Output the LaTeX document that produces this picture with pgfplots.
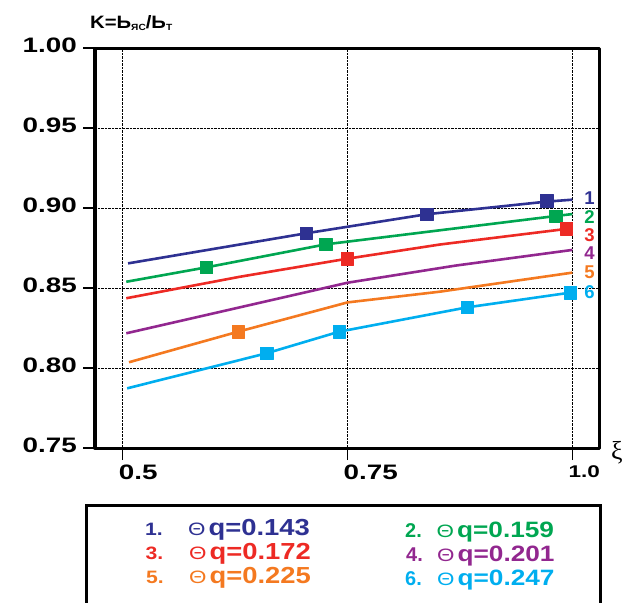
\documentclass[border=0pt]{standalone}
\usepackage{fontspec}
\setmainfont{Liberation Sans}
\newfontfamily\tickfont[FakeStretch=1.33]{Liberation Sans}
\newfontfamily\legfont[FakeStretch=1.18]{Liberation Sans}
\newfontfamily\titlefont[FakeStretch=1.13]{Liberation Sans}
\newfontfamily\greekserif{Liberation Serif}
\usepackage{graphicx}
\usepackage{pgfplots}
\pgfplotsset{compat=1.18}

\definecolor{c1}{HTML}{2E3192}
\definecolor{c2}{HTML}{00A651}
\definecolor{c3}{HTML}{ED2A24}
\definecolor{c4}{HTML}{92278F}
\definecolor{c5}{HTML}{F47920}
\definecolor{c6}{HTML}{00AEEF}

% curves K(xi) for the six values of Theta q
\pgfplotstableread{
x      y
0.506  0.8654
0.704  0.8842
0.838  0.8961
0.9715 0.9040
1.000  0.9052
}\lineA
\pgfplotstableread{
x      y
0.704  0.8842
0.838  0.8961
0.9715 0.9044
}\markA
\pgfplotstableread{
x      y
0.504  0.8539
0.593  0.8629
0.726  0.8773
0.9815 0.8950
1.000  0.8962
}\lineB
\pgfplotstableread{
x      y
0.593  0.8629
0.726  0.8773
0.9815 0.8950
}\markB
\pgfplotstableread{
x      y
0.504  0.8436
0.630  0.8570
0.7495 0.8683
0.853  0.8772
0.993  0.8869
1.000  0.8873
}\lineC
\pgfplotstableread{
x      y
0.7495 0.8683
0.993  0.8869
}\markC
\pgfplotstableread{
x      y
0.504  0.8217
0.620  0.8366
0.750  0.8533
0.870  0.8640
1.000  0.8738
}\lineD
\pgfplotstableread{
x      y
0.507  0.8036
0.6284 0.8227
0.750  0.8410
0.8526 0.8477
1.000  0.8596
}\lineE
\pgfplotstableread{
x      y
0.6284 0.8227
}\markE
\pgfplotstableread{
x      y
0.505  0.7873
0.660  0.8092
0.7407 0.8227
0.8829 0.8379
0.9977 0.8471
1.000  0.8473
}\lineF
\pgfplotstableread{
x      y
0.660  0.8092
0.7407 0.8227
0.8829 0.8379
0.9977 0.8471
}\markF

\begin{document}
\begin{tikzpicture}
\begin{axis}[
  scale only axis,
  width=504.5bp, height=400bp,
  at={(95bp,-448bp)}, anchor=south west,
  xmin=0.4692, xmax=1.0302,
  ymin=0.75, ymax=1.0,
  clip=false,
  axis line style={line width=3bp, black},
  tick pos=left,
  tick align=outside,
  major tick length=12bp,
  tick style={line width=1.5bp, black},
  grid=major,
  major grid style={densely dotted, line width=0.8bp, black},
  xtick={0.5,0.75,1.0},
  xticklabels={0.5,0.75,{\fontsize{17}{17}\selectfont 1.0}},
  ytick={0.75,0.80,0.85,0.90,0.95,1.00},
  /pgf/number format/assume math mode=true,
  yticklabel style={/pgf/number format/fixed,
    /pgf/number format/fixed zerofill,
    /pgf/number format/precision=2,
    anchor=east, inner sep=0pt, xshift=-6bp, yshift=3bp},
  xticklabel style={anchor=north west, inner sep=0pt, xshift=-4bp, yshift=-5bp},
  ticklabel style={font=\tickfont\bfseries\fontsize{21}{21}\selectfont},
  line join=round,
]
\addplot[c1, line width=2.6bp] table {\lineA};
\addplot[c2, line width=2.6bp] table {\lineB};
\addplot[c3, line width=2.6bp] table {\lineC};
\addplot[c4, line width=2.6bp] table {\lineD};
\addplot[c5, line width=2.6bp] table {\lineE};
\addplot[c6, line width=2.6bp] table {\lineF};
\addplot[only marks, mark=square*, mark size=6.3bp, c1] table {\markA};
\addplot[only marks, mark=square*, mark size=6.3bp, c2] table {\markB};
\addplot[only marks, mark=square*, mark size=6.3bp, c3] table {\markC};
\addplot[only marks, mark=square*, mark size=6.3bp, c5] table {\markE};
\addplot[only marks, mark=square*, mark size=6.3bp, c6] table {\markF};

% curve numbers at the right-hand end
\begin{scope}[every node/.style={inner sep=0pt, font=\bfseries\fontsize{18.6}{18.6}\selectfont}]
\node[c1] at (axis cs:1.019,0.9063) {1};
\node[c2] at (axis cs:1.019,0.8946) {2};
\node[c3] at (axis cs:1.019,0.8831) {3};
\node[c4] at (axis cs:1.019,0.8717) {4};
\node[c5] at (axis cs:1.019,0.8596) {5};
\node[c6] at (axis cs:1.019,0.8477) {6};
\end{scope}
\end{axis}

% axis titles
\node[anchor=base west, inner sep=0pt, font=\titlefont\bfseries\fontsize{18}{18}\selectfont]
  at (90bp,-28bp)
  {K=Ь\raisebox{-2bp}{\fontsize{9}{9}\selectfont ЯС}/Ь\raisebox{-2bp}{\fontsize{9}{9}\selectfont Т}};
\node[inner sep=0pt, font=\greekserif\fontsize{26}{26}\selectfont] at (617bp,-453bp) {ξ};

% legend box
\draw[line width=3bp] (86bp,-505bp) rectangle (600bp,-650bp);
\newcommand{\thq}[2]{{\fontsize{18}{18}\selectfont\scalebox{1.25}[1]{Θ}}\hspace{3bp}{\legfont\bfseries\fontsize{#2}{#2}\selectfont q=#1}}
\begin{scope}[every node/.style={anchor=base west, inner sep=0pt}]
\node[c1, font=\legfont\bfseries\fontsize{18}{18}\selectfont] at (145bp,-535bp) {1.};
\node[c1] at (188bp,-535bp) {\thq{0.143}{23.3}};
\node[c3, font=\legfont\bfseries\fontsize{18}{18}\selectfont] at (145.5bp,-559.5bp) {3.};
\node[c3] at (189bp,-559.5bp) {\thq{0.172}{23.3}};
\node[c5, font=\legfont\bfseries\fontsize{18}{18}\selectfont] at (146bp,-583.5bp) {5.};
\node[c5] at (189bp,-583.5bp) {\thq{0.225}{23.3}};
\node[c2, font=\bfseries\fontsize{20}{20}\selectfont] at (405bp,-537.5bp) {2.};
\node[c2] at (436.5bp,-537.5bp) {\thq{0.159}{22.3}};
\node[c4, font=\bfseries\fontsize{20}{20}\selectfont] at (406bp,-561bp) {4.};
\node[c4] at (437bp,-561bp) {\thq{0.201}{22.3}};
\node[c6, font=\bfseries\fontsize{20}{20}\selectfont] at (405bp,-585bp) {6.};
\node[c6] at (437bp,-585bp) {\thq{0.247}{22.3}};
\end{scope}

\pgfresetboundingbox
\useasboundingbox (0,0) rectangle (629bp,-603bp);
\end{tikzpicture}
\end{document}
